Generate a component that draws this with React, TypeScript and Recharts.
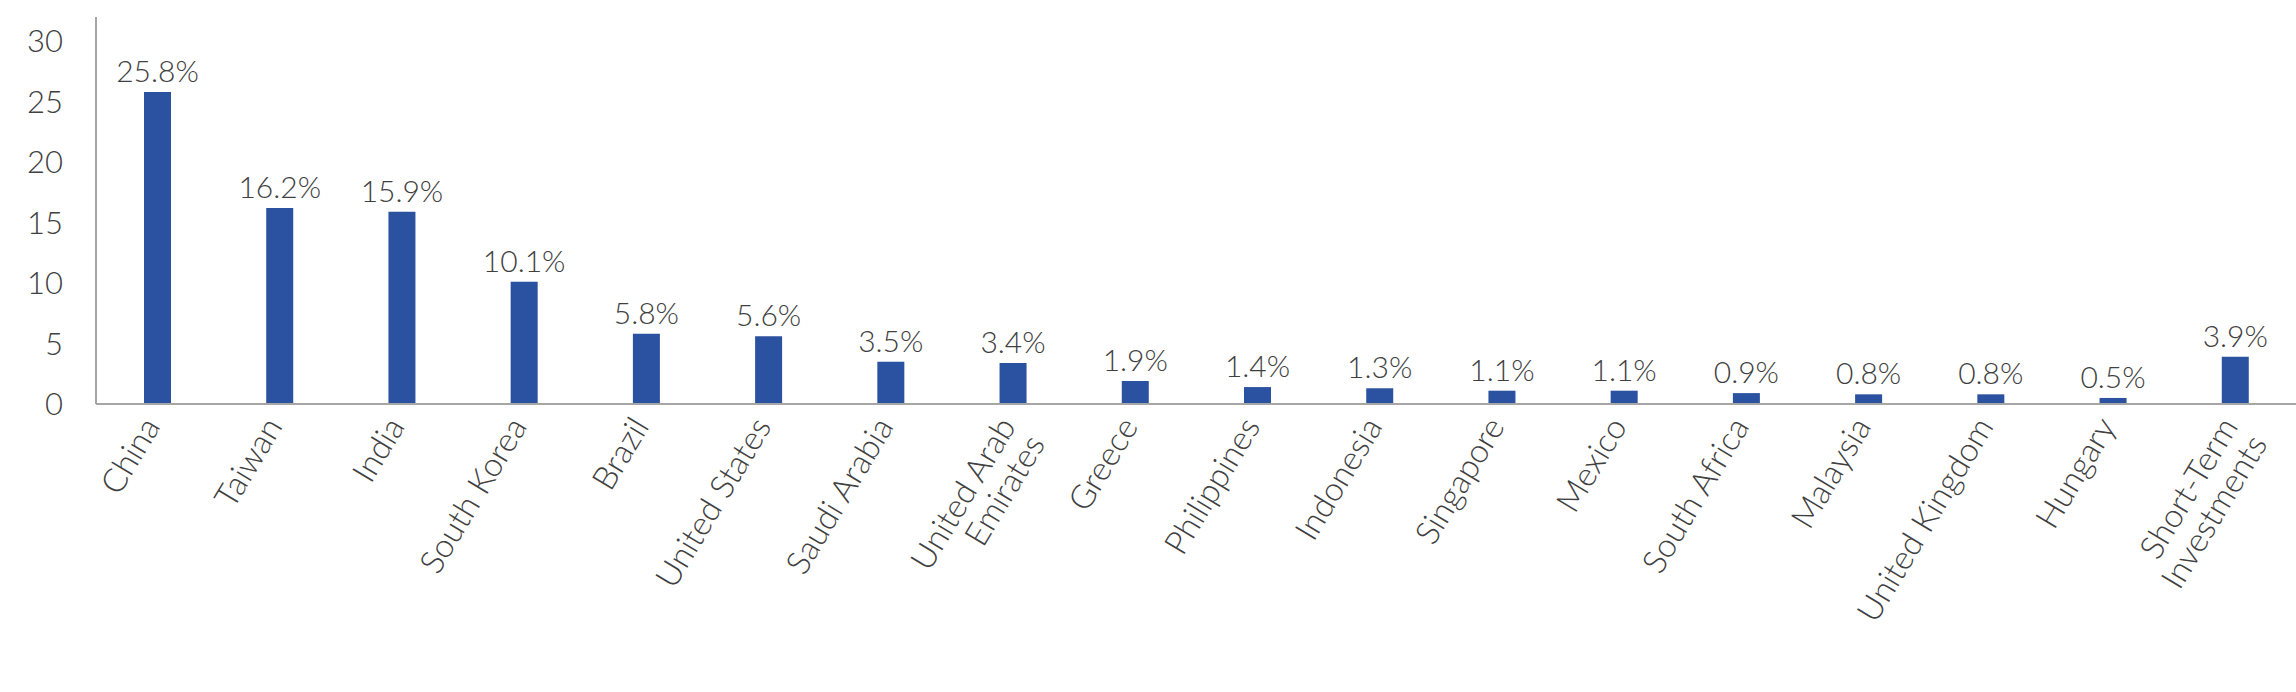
import React from 'react';
import { BarChart, Bar, XAxis, YAxis, LabelList } from 'recharts';

const categories = [
  'China', 'Taiwan', 'India', 'South Korea', 'Brazil', 'United States', 'Saudi Arabia',
  'United Arab\nEmirates', 'Greece', 'Philippines', 'Indonesia', 'Singapore', 'Mexico',
  'South Africa', 'Malaysia', 'United Kingdom', 'Hungary', 'Short-Term\nInvestments',
];
const weights = [25.8, 16.2, 15.9, 10.1, 5.8, 5.6, 3.5, 3.4, 1.9, 1.4, 1.3, 1.1, 1.1, 0.9, 0.8, 0.8, 0.5, 3.9];
const yTicks = [0, 5, 10, 15, 20, 25, 30];

const data = categories.map((c, i) => ({ name: c, value: weights[i] }));

const FONT = 'Lato, "Open Sans", sans-serif';
const TEXT = '#404040';
const AXIS = '#a6a6a6';
const BAR = '#2B52A0';

const XTick = (props: any) => {
  const { x, y, payload } = props;
  const lines = String(payload.value).split('\n');
  return (
    <g transform={`translate(${x},${y}) rotate(-59)`}>
      <text textAnchor="end" fill={TEXT} fontSize={33} fontFamily={FONT} fontWeight={300}>
        {lines.map((l, i) => (
          <tspan key={i} x={-12} y={12 + i * 34}>{l}</tspan>
        ))}
      </text>
    </g>
  );
};

export default function App() {
  return (
    <div style={{ position: 'absolute', left: 0, top: 0, background: '#fff' }}>
      <BarChart width={2296} height={692} data={data} margin={{ top: 17, right: 0, left: 0, bottom: 0 }} barSize={27}>
        <XAxis
          dataKey="name"
          interval={0}
          height={288}
          tickLine={false}
          axisLine={{ stroke: AXIS, strokeWidth: 2 }}
          tick={<XTick />}
          tickMargin={0}
        />
        <YAxis
          width={96}
          domain={[0, 32]}
          ticks={yTicks}
          interval={0}
          tickLine={false}
          tickSize={0}
          tickMargin={33}
          axisLine={{ stroke: AXIS, strokeWidth: 2 }}
          tick={{ fill: TEXT, fontSize: 31, fontFamily: FONT, fontWeight: 300 }}
        />
        <Bar dataKey="value" fill={BAR} isAnimationActive={false}>
          <LabelList
            dataKey="value"
            position="top"
            offset={10}
            formatter={(v: any) => `${Number(v).toFixed(1)}%`}
            fill={TEXT}
            fontSize={30}
            fontFamily={FONT}
            fontWeight={300}
          />
        </Bar>
      </BarChart>
    </div>
  );
}
